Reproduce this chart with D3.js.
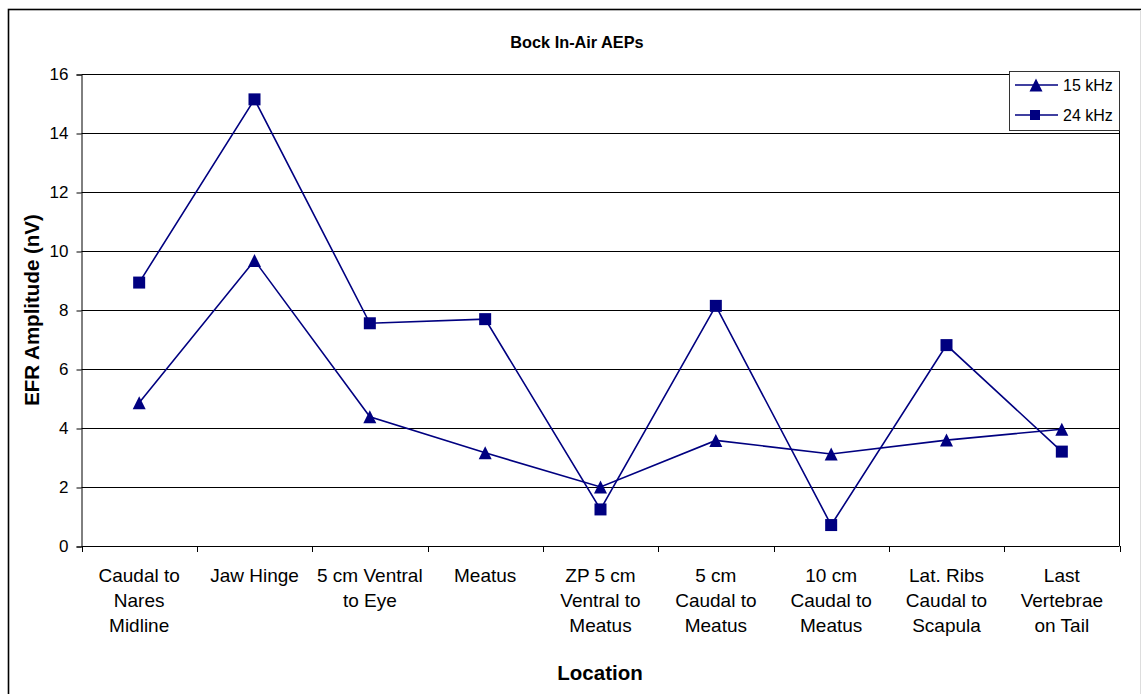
<!DOCTYPE html>
<html><head><meta charset="utf-8">
<script src="https://cdn.jsdelivr.net/npm/d3@7"></script>
<style>body{margin:0;background:#fff}svg{display:block}text{font-family:"Liberation Sans",Arial,sans-serif}</style>
</head><body>
<svg id="c" width="1141" height="694"></svg>
<script>
const categories = [
  ["Caudal to","Nares","Midline"],
  ["Jaw Hinge"],
  ["5 cm Ventral","to Eye"],
  ["Meatus"],
  ["ZP 5 cm","Ventral to","Meatus"],
  ["5 cm","Caudal to","Meatus"],
  ["10 cm","Caudal to","Meatus"],
  ["Lat. Ribs","Caudal to","Scapula"],
  ["Last","Vertebrae","on Tail"]
];
const series15 = [4.86, 9.68, 4.38, 3.16, 2.0, 3.58, 3.12, 3.59, 3.96];
const series24 = [8.93, 15.14, 7.55, 7.69, 1.24, 8.14, 0.71, 6.81, 3.20];
const yTicks = [0, 2, 4, 6, 8, 10, 12, 14, 16];
const seriesNames = ["15 kHz", "24 kHz"];

const svg = d3.select("#c");
const L = 81.5, R = 1119.5, T = 74, B = 546;
const color = "#000080";

// outer border
svg.append("rect").attr("x", 8.5).attr("y", 9.5).attr("width", 1150).attr("height", 700)
  .attr("fill", "none").attr("stroke", "#000").attr("stroke-width", 1.6);
svg.append("line").attr("x1", 1140.5).attr("x2", 1140.5).attr("y1", 10).attr("y2", 694)
  .attr("stroke", "#ddd").attr("stroke-width", 1);

const x = d3.scaleBand().domain(d3.range(categories.length)).range([L, R]).padding(0);
const y = d3.scaleLinear().domain([0, 16]).range([B, T]);

// gridlines
svg.append("g").selectAll("line").data(yTicks.filter(d => d > 0)).join("line")
  .attr("x1", L).attr("x2", R).attr("y1", d => Math.round(y(d)) + 0.5).attr("y2", d => Math.round(y(d)) + 0.5)
  .attr("stroke", "#000").attr("stroke-width", 1);
// right border
svg.append("line").attr("x1", R).attr("x2", R).attr("y1", T).attr("y2", B).attr("stroke", "#000");

// y axis
const yAxis = d3.axisLeft(y).tickValues(yTicks).tickSize(5).tickPadding(8);
const gy = svg.append("g").attr("transform", `translate(${L},0.5)`).call(yAxis);
gy.select(".domain").attr("stroke", "#000");
gy.selectAll("text").attr("font-size", 17).attr("fill", "#000").attr("font-family", "Liberation Sans, Arial, sans-serif");

// x axis
const xBounds = d3.range(categories.length + 1).map(i => L + i * x.bandwidth());
const gx = svg.append("g");
gx.append("line").attr("x1", L).attr("x2", R).attr("y1", B + 0.5).attr("y2", B + 0.5).attr("stroke", "#000");
gx.selectAll("line.t").data(xBounds).join("line").attr("class", "t")
  .attr("x1", d => Math.round(d) + 0.5).attr("x2", d => Math.round(d) + 0.5)
  .attr("y1", B).attr("y2", B + 6).attr("stroke", "#000");
const labels = gx.selectAll("text.cat").data(categories).join("text").attr("class", "cat")
  .attr("text-anchor", "middle").attr("font-size", 19).attr("fill", "#000");
labels.each(function(lines, i) {
  const t = d3.select(this);
  lines.forEach((ln, j) => {
    t.append("tspan").attr("x", x(i) + x.bandwidth() / 2).attr("y", 582 + j * 25).text(ln);
  });
});

// lines and markers
const line = d3.line().x((d, i) => x(i) + x.bandwidth() / 2).y(d => y(d));
svg.append("path").datum(series15).attr("d", line).attr("fill", "none").attr("stroke", color).attr("stroke-width", 1.6);
svg.append("path").datum(series24).attr("d", line).attr("fill", "none").attr("stroke", color).attr("stroke-width", 1.6);

const tri = (cx, cy) => `M${cx},${cy - 6.5}L${cx + 6.5},${cy + 6.5}L${cx - 6.5},${cy + 6.5}Z`;
svg.append("g").selectAll("path").data(series15).join("path")
  .attr("d", (d, i) => tri(x(i) + x.bandwidth() / 2, y(d))).attr("fill", color);
svg.append("g").selectAll("rect").data(series24).join("rect")
  .attr("x", (d, i) => x(i) + x.bandwidth() / 2 - 6).attr("y", d => y(d) - 6)
  .attr("width", 12).attr("height", 12).attr("fill", color);

// titles
svg.append("text").attr("x", 577).attr("y", 48).attr("text-anchor", "middle")
  .attr("font-size", 16.3).attr("font-weight", "bold").text("Bock In-Air AEPs");
svg.append("text").attr("x", 600).attr("y", 680).attr("text-anchor", "middle")
  .attr("font-size", 20.5).attr("font-weight", "bold").text("Location");
svg.append("text").attr("transform", `translate(39,${(T + B) / 2}) rotate(-90)`).attr("text-anchor", "middle")
  .attr("font-size", 20.5).attr("font-weight", "bold").text("EFR Amplitude (nV)");

// legend
const lg = svg.append("g");
lg.append("rect").attr("x", 1009.5).attr("y", 71.5).attr("width", 110).attr("height", 59)
  .attr("fill", "#fff").attr("stroke", "#333").attr("stroke-width", 1);
seriesNames.forEach((name, k) => {
  const cy = 85 + k * 30;
  lg.append("line").attr("x1", 1015).attr("x2", 1058).attr("y1", cy).attr("y2", cy).attr("stroke", color).attr("stroke-width", 1.6);
  if (k === 0) lg.append("path").attr("d", tri(1036, cy)).attr("fill", color);
  else lg.append("rect").attr("x", 1030).attr("y", cy - 5).attr("width", 10).attr("height", 10).attr("fill", color);
  lg.append("text").attr("x", 1063).attr("y", cy + 6).attr("font-size", 16).text(name);
});
</script>
</body></html>
